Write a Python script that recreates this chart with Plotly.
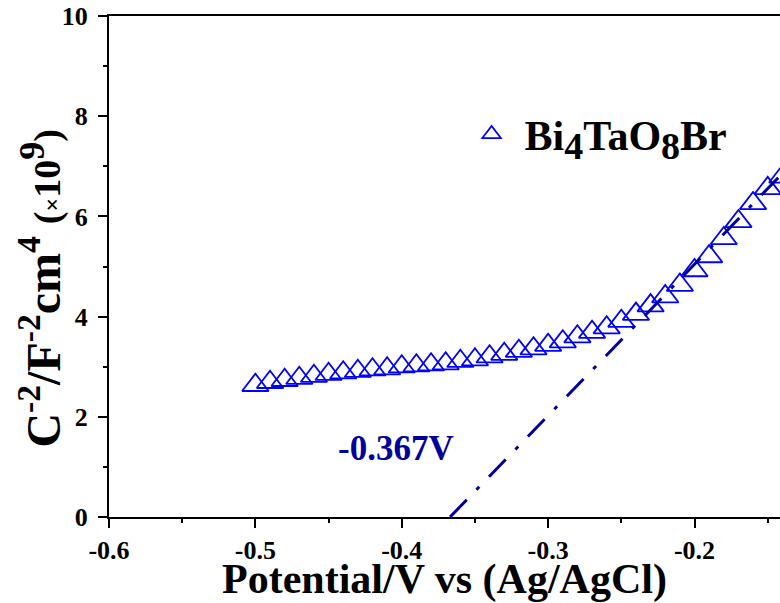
import plotly.graph_objects as go

# Mott-Schottky data for Bi4TaO8Br (potential in V vs Ag/AgCl, C^-2 in 1e9 F^-2 cm^4)
potential = [-0.50, -0.49, -0.48, -0.47, -0.46, -0.45, -0.44, -0.43, -0.42, -0.41,
             -0.40, -0.39, -0.38, -0.37, -0.36, -0.35, -0.34, -0.33, -0.32, -0.31,
             -0.30, -0.29, -0.28, -0.27, -0.26, -0.25, -0.24, -0.23, -0.22, -0.21,
             -0.20, -0.19, -0.18, -0.17, -0.16, -0.15, -0.14]
inv_c2 = [2.63, 2.69, 2.73, 2.77, 2.81, 2.85, 2.88, 2.91, 2.94, 2.96,
          3.00, 3.02, 3.04, 3.06, 3.11, 3.14, 3.20, 3.25, 3.31, 3.36,
          3.43, 3.50, 3.60, 3.69, 3.78, 3.91, 4.05, 4.22, 4.40, 4.63,
          4.92, 5.20, 5.56, 5.90, 6.26, 6.56, 6.79]

# Linear fit of the depletion region, extrapolated to the flat-band potential
flat_band = -0.367
fit_x = [flat_band, -0.13]
fit_y = [0.0, 7.16]

x_ticks = [-0.6, -0.5, -0.4, -0.3, -0.2]
x_labels = ["-0.6", "-0.5", "-0.4", "-0.3", "-0.2"]
y_ticks = [0, 2, 4, 6, 8, 10]
y_labels = ["0", "2", "4", "6", "8", "10"]

SERIF = "Liberation Serif"
NAVY = "#00009c"

fig = go.Figure()
fig.add_trace(go.Scatter(
    x=potential, y=inv_c2, mode="markers",
    name="Bi<sub><span style='font-size:38px'>4</span></sub>TaO<sub><span style='font-size:38px'>8</span></sub>Br",
    marker=dict(symbol="triangle-up-open", size=23, color="#0000ff",
                line=dict(width=1.8, color="#0000ff")),
))
fig.add_trace(go.Scatter(
    x=fit_x, y=fit_y, mode="lines", showlegend=False,
    line=dict(color=NAVY, width=3, dash="24px,14px,4px,14px"),
))

axis_common = dict(
    showgrid=False, zeroline=False, showline=True, linecolor="black", linewidth=2,
    ticks="outside", ticklen=9, tickwidth=2, tickcolor="black",
    tickfont=dict(family=SERIF, size=26, color="black", weight="bold"),
)

fig.update_xaxes(
    range=[-0.6, -0.1416], tickmode="array", tickvals=x_ticks, ticktext=x_labels,
    mirror=True,
    minor=dict(dtick=0.05, tick0=-0.6, ticks="outside", ticklen=4, tickwidth=2, tickcolor="black"),
    title=dict(text="Potential/V vs (Ag/AgCl)", standoff=4,
               font=dict(family=SERIF, size=42, color="black", weight="bold")),
    **axis_common,
)
fig.update_yaxes(
    range=[0, 10], tickmode="array", tickvals=y_ticks, ticktext=y_labels,
    minor=dict(dtick=1, tick0=0, ticks="outside", ticklen=4, tickwidth=2, tickcolor="black"),
    ticklabelstandoff=5,
    **axis_common,
)

fig.add_annotation(
    x=flat_band, y=1.36, xref="x", yref="y", xanchor="right", yanchor="middle",
    xshift=6, showarrow=False, text="-0.367V",
    font=dict(family=SERIF, size=35, color=NAVY, weight="bold"),
)
fig.add_annotation(
    x=-0.1035, y=0.455, xref="paper", yref="paper", xanchor="center", yanchor="middle",
    textangle=-90, showarrow=False,
    text=("C<sup>-2</sup>/F<sup>-2</sup>cm<sup>4</sup> "
          "<span style='font-size:38px'>(<span style='font-size:24px'>×</span>10"
          "<sup><span style='font-size:36px'>9</span></sup>)</span>"),
    font=dict(family=SERIF, size=48, color="black", weight="bold"),
)

fig.update_layout(
    width=780, height=603, margin=dict(l=109, r=0, t=16, b=86),
    paper_bgcolor="white", plot_bgcolor="white",
    showlegend=True,
    legend=dict(x=0.521, y=0.764, xanchor="left", yanchor="middle",
                bgcolor="rgba(0,0,0,0)", itemwidth=56,
                font=dict(family=SERIF, size=42, color="black", weight="bold")),
)

fig.write_html("out.html")
